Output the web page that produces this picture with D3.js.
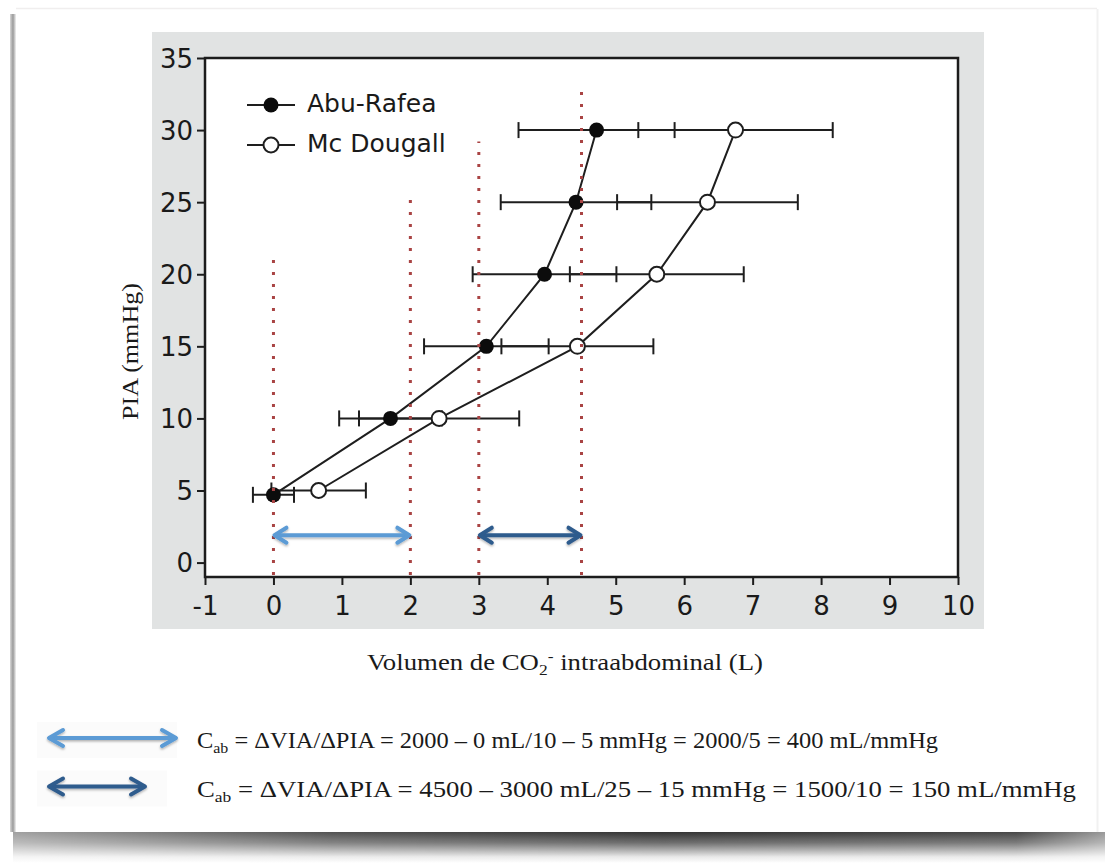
<!DOCTYPE html>
<html><head><meta charset="utf-8">
<script src="https://cdn.jsdelivr.net/npm/d3@7"></script>
<style>body{margin:0;background:#fff;} svg{display:block;}</style>
</head><body>
<svg id="c" width="1105" height="863"></svg>
<script>
// ---- data ----
const seriesNames = ["Abu-Rafea", "Mc Dougall"];
const abuPressure = [4.7, 10, 15, 20, 25, 30];
const abuVolume   = [0, 1.71, 3.11, 3.96, 4.42, 4.72];
const abuError    = [0.30, 0.75, 0.91, 1.05, 1.10, 1.14];
const mcdPressure = [5, 10, 15, 20, 25, 30];
const mcdVolume   = [0.66, 2.42, 4.44, 5.60, 6.34, 6.75];
const mcdError    = [0.69, 1.17, 1.11, 1.27, 1.32, 1.42];
const xTicks = [-1, 0, 1, 2, 3, 4, 5, 6, 7, 8, 9, 10];
const yTicks = [0, 5, 10, 15, 20, 25, 30, 35];
const guideX   = [0, 2, 3, 4.5];
const guideTop = [21.1, 25.4, 29.2, 32.9];
const spanStart = [0, 3];
const spanEnd   = [2, 4.5];
const spanLevel = 1.9;
const spanColors = ["#5b9bd5", "#2f5b8d"];
const xLabel = ["Volumen de CO", "2", "-", " intraabdominal (L)"];
const yLabel = "PIA (mmHg)";
const formulaLines = [
  " = ΔVIA/ΔPIA = 2000 – 0 mL/10 – 5 mmHg = 2000/5 = 400 mL/mmHg",
  " = ΔVIA/ΔPIA = 4500 – 3000 mL/25 – 15 mmHg = 1500/10 = 150 mL/mmHg"
];

const svg = d3.select("#c");
const defs = svg.append("defs");

// ---- page / card background ----
const vg = defs.append("linearGradient").attr("id","shv").attr("x1",0).attr("y1",0).attr("x2",0).attr("y2",1);
vg.append("stop").attr("offset","0").attr("stop-color","#333");
vg.append("stop").attr("offset","0.35").attr("stop-color","#6e6e6e");
vg.append("stop").attr("offset","0.8").attr("stop-color","#e8e8e8");
vg.append("stop").attr("offset","1").attr("stop-color","#ffffff");
const hg = defs.append("linearGradient").attr("id","shh").attr("x1",0).attr("y1",0).attr("x2",1).attr("y2",0);
hg.append("stop").attr("offset","0").attr("stop-color","#fff").attr("stop-opacity",0.45);
hg.append("stop").attr("offset","0.3").attr("stop-color","#fff").attr("stop-opacity",0.85);
hg.append("stop").attr("offset","0.6").attr("stop-color","#fff").attr("stop-opacity",1);
hg.append("stop").attr("offset","0.92").attr("stop-color","#fff").attr("stop-opacity",0.9);
hg.append("stop").attr("offset","1").attr("stop-color","#fff").attr("stop-opacity",0.5);
const mask = defs.append("mask").attr("id","shm");
mask.append("rect").attr("x",0).attr("y",820).attr("width",1105).attr("height",50).attr("fill","url(#shh)");
svg.append("rect").attr("x",13).attr("y",832).attr("width",1092).attr("height",31)
  .attr("fill","url(#shv)").attr("mask","url(#shm)");
const lg = defs.append("linearGradient").attr("id","lef").attr("x1",0).attr("x2",1).attr("y1",0).attr("y2",0);
lg.append("stop").attr("offset","0").attr("stop-color","#d8d8d8");
lg.append("stop").attr("offset","0.5").attr("stop-color","#9a9a9a");
lg.append("stop").attr("offset","1").attr("stop-color","#f2f2f2");
svg.append("rect").attr("x",10).attr("y",14).attr("width",6).attr("height",818).attr("fill","url(#lef)");
svg.append("line").attr("x1",16).attr("x2",1097).attr("y1",8.5).attr("y2",8.5).attr("stroke","#f0eeee").attr("stroke-width",1.5);
svg.append("line").attr("x1",1097.5).attr("x2",1097.5).attr("y1",9).attr("y2",832).attr("stroke","#f1f1f1").attr("stroke-width",2);

// ---- chart panel ----
svg.append("rect").attr("x",152).attr("y",32).attr("width",832).attr("height",597).attr("fill","#e1e3e3");

const x = d3.scaleLinear().domain([-1, 10]).range([205, 958]);
const y = d3.scaleLinear().domain([-1, 35]).range([577, 58]);

svg.append("rect").attr("x",x(-1)).attr("y",y(35)).attr("width",x(10)-x(-1)).attr("height",y(-1)-y(35))
  .attr("fill","#fff").attr("stroke","#1c1c1c").attr("stroke-width",2.5);

const tickFont = "'DejaVu Sans', sans-serif";
const gx = svg.append("g").attr("transform",`translate(0,${y(-1)})`)
  .call(d3.axisBottom(x).tickValues(xTicks).tickSize(8).tickSizeOuter(0).tickFormat(d => String(d)));
gx.select(".domain").remove();
gx.selectAll("line").attr("stroke","#1c1c1c").attr("stroke-width",2);
gx.selectAll("text").attr("y",37.5).attr("dy",0).attr("fill","#1a1a1a")
  .style("font-family",tickFont).style("font-size","26px");

const gy = svg.append("g").attr("transform",`translate(${x(-1)},0)`)
  .call(d3.axisLeft(y).tickValues(yTicks).tickSize(8).tickSizeOuter(0).tickPadding(4).tickFormat(d => String(d)));
gy.select(".domain").remove();
gy.selectAll("line").attr("stroke","#1c1c1c").attr("stroke-width",2);
gy.selectAll("text").attr("fill","#1a1a1a").attr("dy","0.36em")
  .style("font-family",tickFont).style("font-size","26px");

// ---- series ----
const abu = abuVolume.map((v,i)=>({v, p:abuPressure[i], e:abuError[i]}));
const mcd = mcdVolume.map((v,i)=>({v, p:mcdPressure[i], e:mcdError[i]}));
const line = d3.line().x(d=>x(d.v)).y(d=>y(d.p));
const ink = "#1e1e1e";

function errorBars(data){
  const g = svg.append("g").attr("stroke",ink).attr("stroke-width",2);
  g.selectAll("line.h").data(data).join("line")
    .attr("x1",d=>x(d.v-d.e)).attr("x2",d=>x(d.v+d.e)).attr("y1",d=>y(d.p)).attr("y2",d=>y(d.p));
  g.selectAll("line.l").data(data).join("line")
    .attr("x1",d=>x(d.v-d.e)).attr("x2",d=>x(d.v-d.e)).attr("y1",d=>y(d.p)-8).attr("y2",d=>y(d.p)+8);
  g.selectAll("line.r").data(data).join("line")
    .attr("x1",d=>x(d.v+d.e)).attr("x2",d=>x(d.v+d.e)).attr("y1",d=>y(d.p)-8).attr("y2",d=>y(d.p)+8);
}
errorBars(abu);
errorBars(mcd);
svg.append("path").datum(abu).attr("d",line).attr("fill","none").attr("stroke",ink).attr("stroke-width",2);
svg.append("path").datum(mcd).attr("d",line).attr("fill","none").attr("stroke",ink).attr("stroke-width",2);
svg.append("g").selectAll("circle").data(mcd).join("circle")
  .attr("cx",d=>x(d.v)).attr("cy",d=>y(d.p)).attr("r",7.5)
  .attr("fill","#fff").attr("stroke",ink).attr("stroke-width",2);
svg.append("g").selectAll("circle").data(abu).join("circle")
  .attr("cx",d=>x(d.v)).attr("cy",d=>y(d.p)).attr("r",7.5).attr("fill","#0c0c0c");

// ---- dotted guides ----
svg.append("g").selectAll("line").data(guideX).join("line")
  .attr("x1",d=>x(d)).attr("x2",d=>x(d)).attr("y1",y(-1)-2).attr("y2",(d,i)=>y(guideTop[i]))
  .attr("stroke","#a94444").attr("stroke-width",3).attr("stroke-dasharray","3 9");

// ---- double arrows ----
const sh = defs.append("filter").attr("id","ds").attr("x","-10%").attr("y","-60%").attr("width","120%").attr("height","220%");
sh.append("feDropShadow").attr("dx",0).attr("dy",1.5).attr("stdDeviation",1.2).attr("flood-color","#000").attr("flood-opacity",0.3);
function dblArrow(x1, x2, yy, color, hx, hy){
  const g = svg.append("g").attr("filter","url(#ds)").attr("stroke",color).attr("stroke-width",4)
    .attr("fill","none").attr("stroke-linecap","round").attr("stroke-linejoin","round");
  g.append("line").attr("x1",x1+2).attr("x2",x2-2).attr("y1",yy).attr("y2",yy);
  g.append("path").attr("d",`M${x1+hx},${yy-hy} L${x1+1},${yy} L${x1+hx},${yy+hy}`);
  g.append("path").attr("d",`M${x2-hx},${yy-hy} L${x2-1},${yy} L${x2-hx},${yy+hy}`);
}
spanStart.forEach((s,i)=> dblArrow(x(s), x(spanEnd[i]), y(spanLevel), spanColors[i], 13, 7.5));

// ---- legend ----
const legY = [105, 145];
seriesNames.forEach((n,i)=>{
  svg.append("line").attr("x1",247).attr("x2",295).attr("y1",legY[i]).attr("y2",legY[i]).attr("stroke",ink).attr("stroke-width",2);
  svg.append("circle").attr("cx",271).attr("cy",legY[i]).attr("r",7.5)
    .attr("fill", i===0 ? "#0c0c0c" : "#fff").attr("stroke",ink).attr("stroke-width", i===0 ? 0 : 2);
  svg.append("text").attr("x",307).attr("y",legY[i]+7).text(n)
    .style("font-family",tickFont).style("font-size","25px").attr("fill","#1a1a1a");
});

// ---- axis titles ----
const serif = "'Liberation Serif', serif";
const xl = svg.append("text").attr("x",565).attr("y",670).attr("text-anchor","middle")
  .style("font-family",serif).style("font-size","23px").attr("fill","#1a1a1a");
xl.append("tspan").text(xLabel[0]);
xl.append("tspan").attr("dy",5).style("font-size","15px").text(xLabel[1]);
xl.append("tspan").attr("dy",-14).style("font-size","15px").text(xLabel[2]);
xl.append("tspan").attr("dy",9).text(xLabel[3]);
fitWidth(xl, 396);

const yl = svg.append("text").attr("transform","translate(137.5,351.5) rotate(-90)").attr("text-anchor","middle")
  .style("font-family",serif).style("font-size","23px").attr("fill","#1a1a1a").text(yLabel);
fitWidth(yl, 137);

// ---- bottom formulas ----
const fY = [748, 796.5];
const fW = [741, 879];
const legArrowEnd = [177, 146];
formulaLines.forEach((t,i)=>{
  svg.append("rect").attr("x",37).attr("y",fY[i]-26).attr("width",i===0?140:130).attr("height",36).attr("fill","#fbfbfb");
  dblArrow(48, legArrowEnd[i], fY[i]-10, spanColors[i], 15, 8);
  const tx = svg.append("text").attr("x",197).attr("y",fY[i])
    .style("font-family",serif).style("font-size","23px").attr("fill","#1a1a1a");
  tx.append("tspan").text("C");
  tx.append("tspan").attr("dy",5).style("font-size","15px").text("ab");
  tx.append("tspan").attr("dy",-5).text(t);
  fitWidth(tx, fW[i]);
});

function fitWidth(sel, target){
  const w = sel.node().getComputedTextLength();
  if (w > 0 && Math.abs(w - target) / target < 0.3) {
    sel.attr("textLength", target).attr("lengthAdjust","spacingAndGlyphs");
  }
}
</script>
</body></html>
